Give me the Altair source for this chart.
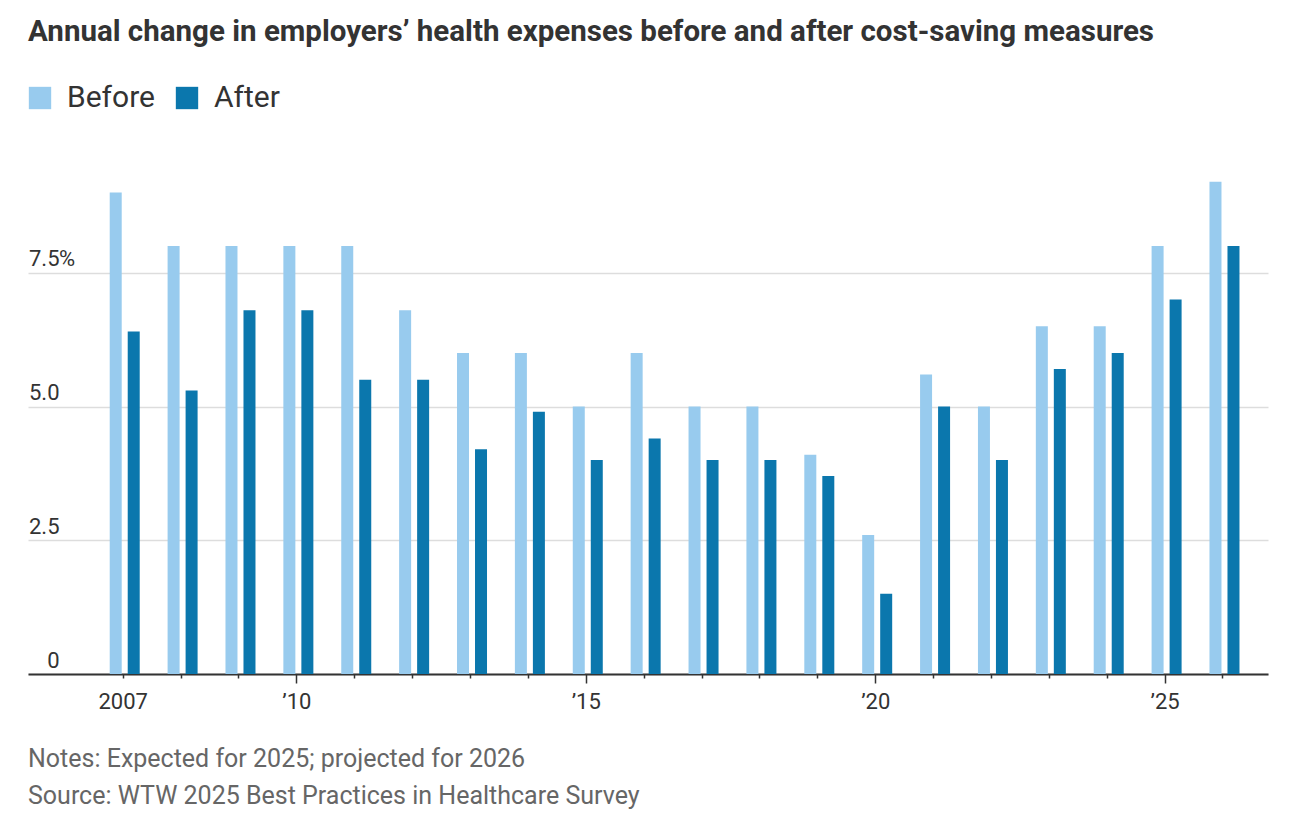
import altair as alt
import pandas as pd

# ---- data ----
years = list(range(2007, 2027))
before = [9.0, 8.0, 8.0, 8.0, 8.0, 6.8, 6.0, 6.0, 5.0, 6.0, 5.0, 5.0, 4.1, 2.6, 5.6, 5.0, 6.5, 6.5, 8.0, 9.2]
after = [6.4, 5.3, 6.8, 6.8, 5.5, 5.5, 4.2, 4.9, 4.0, 4.4, 4.0, 4.0, 3.7, 1.5, 5.0, 4.0, 5.7, 6.0, 7.0, 8.0]
series = ["Before", "After"]
colors = ["#98CBEE", "#0B77AD"]
y_ticks = [0, 2.5, 5.0, 7.5]
title_text = "Annual change in employers\u2019 health expenses before and after cost-saving measures"
notes = ["Notes: Expected for 2025; projected for 2026",
         "Source: WTW 2025 Best Practices in Healthcare Survey"]

rows = []
for i, yr in enumerate(years):
    rows.append({"year": yr, "series": "Before", "value": before[i]})
    rows.append({"year": yr, "series": "After", "value": after[i]})
df = pd.DataFrame(rows)

W, H = 1240, 535
FONT = "Roboto"

x_enc = alt.X(
    "year:Q",
    scale=alt.Scale(domain=[2005.45, 2026.7], nice=False, zero=False),
    axis=alt.Axis(
        values=years, title=None, grid=False,
        domainColor="#333333", domainWidth=2,
        tickColor="#333333", tickWidth=1.5,
        tickSize={"condition": {"test": "datum.value % 5 == 0", "value": 9}, "value": 4},
        labelPadding={"condition": {"test": "datum.value % 5 == 0", "value": 8}, "value": 13},
        labelExpr="datum.value == 2007 ? '2007' : (datum.value % 5 == 0 ? '\u2019' + substring(toString(datum.value), 2, 4) : '')",
        labelFontSize=22, labelColor="#333333", labelFont=FONT,
    ),
)
y_enc = alt.Y(
    "value:Q",
    scale=alt.Scale(domain=[0, 10], nice=False),
    axis=alt.Axis(
        values=y_ticks, title=None, domain=False, ticks=False, tickSize=0,
        gridColor="#DDDDDD", gridWidth=1.5,
        labelAlign="right", labelBaseline="alphabetic", labelPadding=-31,
        labelOffset=-7, labelFontSize=22, labelColor="#333333", labelFont=FONT,
        labelExpr="datum.value == 0 ? '0' : format(datum.value, '.1f')",
    ),
)
color_enc = alt.Color(
    "series:N",
    scale=alt.Scale(domain=series, range=colors),
    legend=alt.Legend(
        title=None, orient="none", legendX=-3, legendY=-56, direction="horizontal",
        symbolType="square", symbolSize=500, symbolStrokeWidth=0,
        labelFontSize=30, labelColor="#333333", labelFont=FONT,
        columnPadding=17, symbolOffset=0, labelOffset=12,
    ),
)

base = alt.Chart(df)
bars_before = base.transform_filter(alt.datum.series == "Before").mark_bar(
    width=12, xOffset=-7).encode(x=x_enc, y=y_enc, color=color_enc)
bars_after = base.transform_filter(alt.datum.series == "After").mark_bar(
    width=12, xOffset=11).encode(x=x_enc, y=y_enc, color=color_enc)

pct = alt.Chart(pd.DataFrame({"v": [7.5], "t": ["%"]})).mark_text(
    align="left", baseline="alphabetic", dy=-7, fontSize=22, color="#333333", font=FONT
).encode(x=alt.value(31), y=alt.Y("v:Q"), text="t:N")

notes_df = pd.DataFrame({"t": ["\n".join(notes)]})
notes_layer = alt.Chart(notes_df).mark_text(
    align="left", baseline="alphabetic", fontSize=25, color="#666666", font=FONT,
    lineBreak="\n", lineHeight=37,
).encode(x=alt.value(0), y=alt.value(H + 93), text="t:N")

chart = alt.layer(bars_before, bars_after, pct, notes_layer).properties(
    width=W, height=H, background="white",
    title=alt.TitleParams(title_text, anchor="start", fontSize=29.5, font=FONT,
                          fontWeight="bold", color="#333333", offset=36, dx=3),
    padding={"left": 17, "top": 8, "right": 10, "bottom": 0},
).configure_view(strokeWidth=0)

chart.save("out.html", embed_options={"renderer": "svg", "actions": False})
